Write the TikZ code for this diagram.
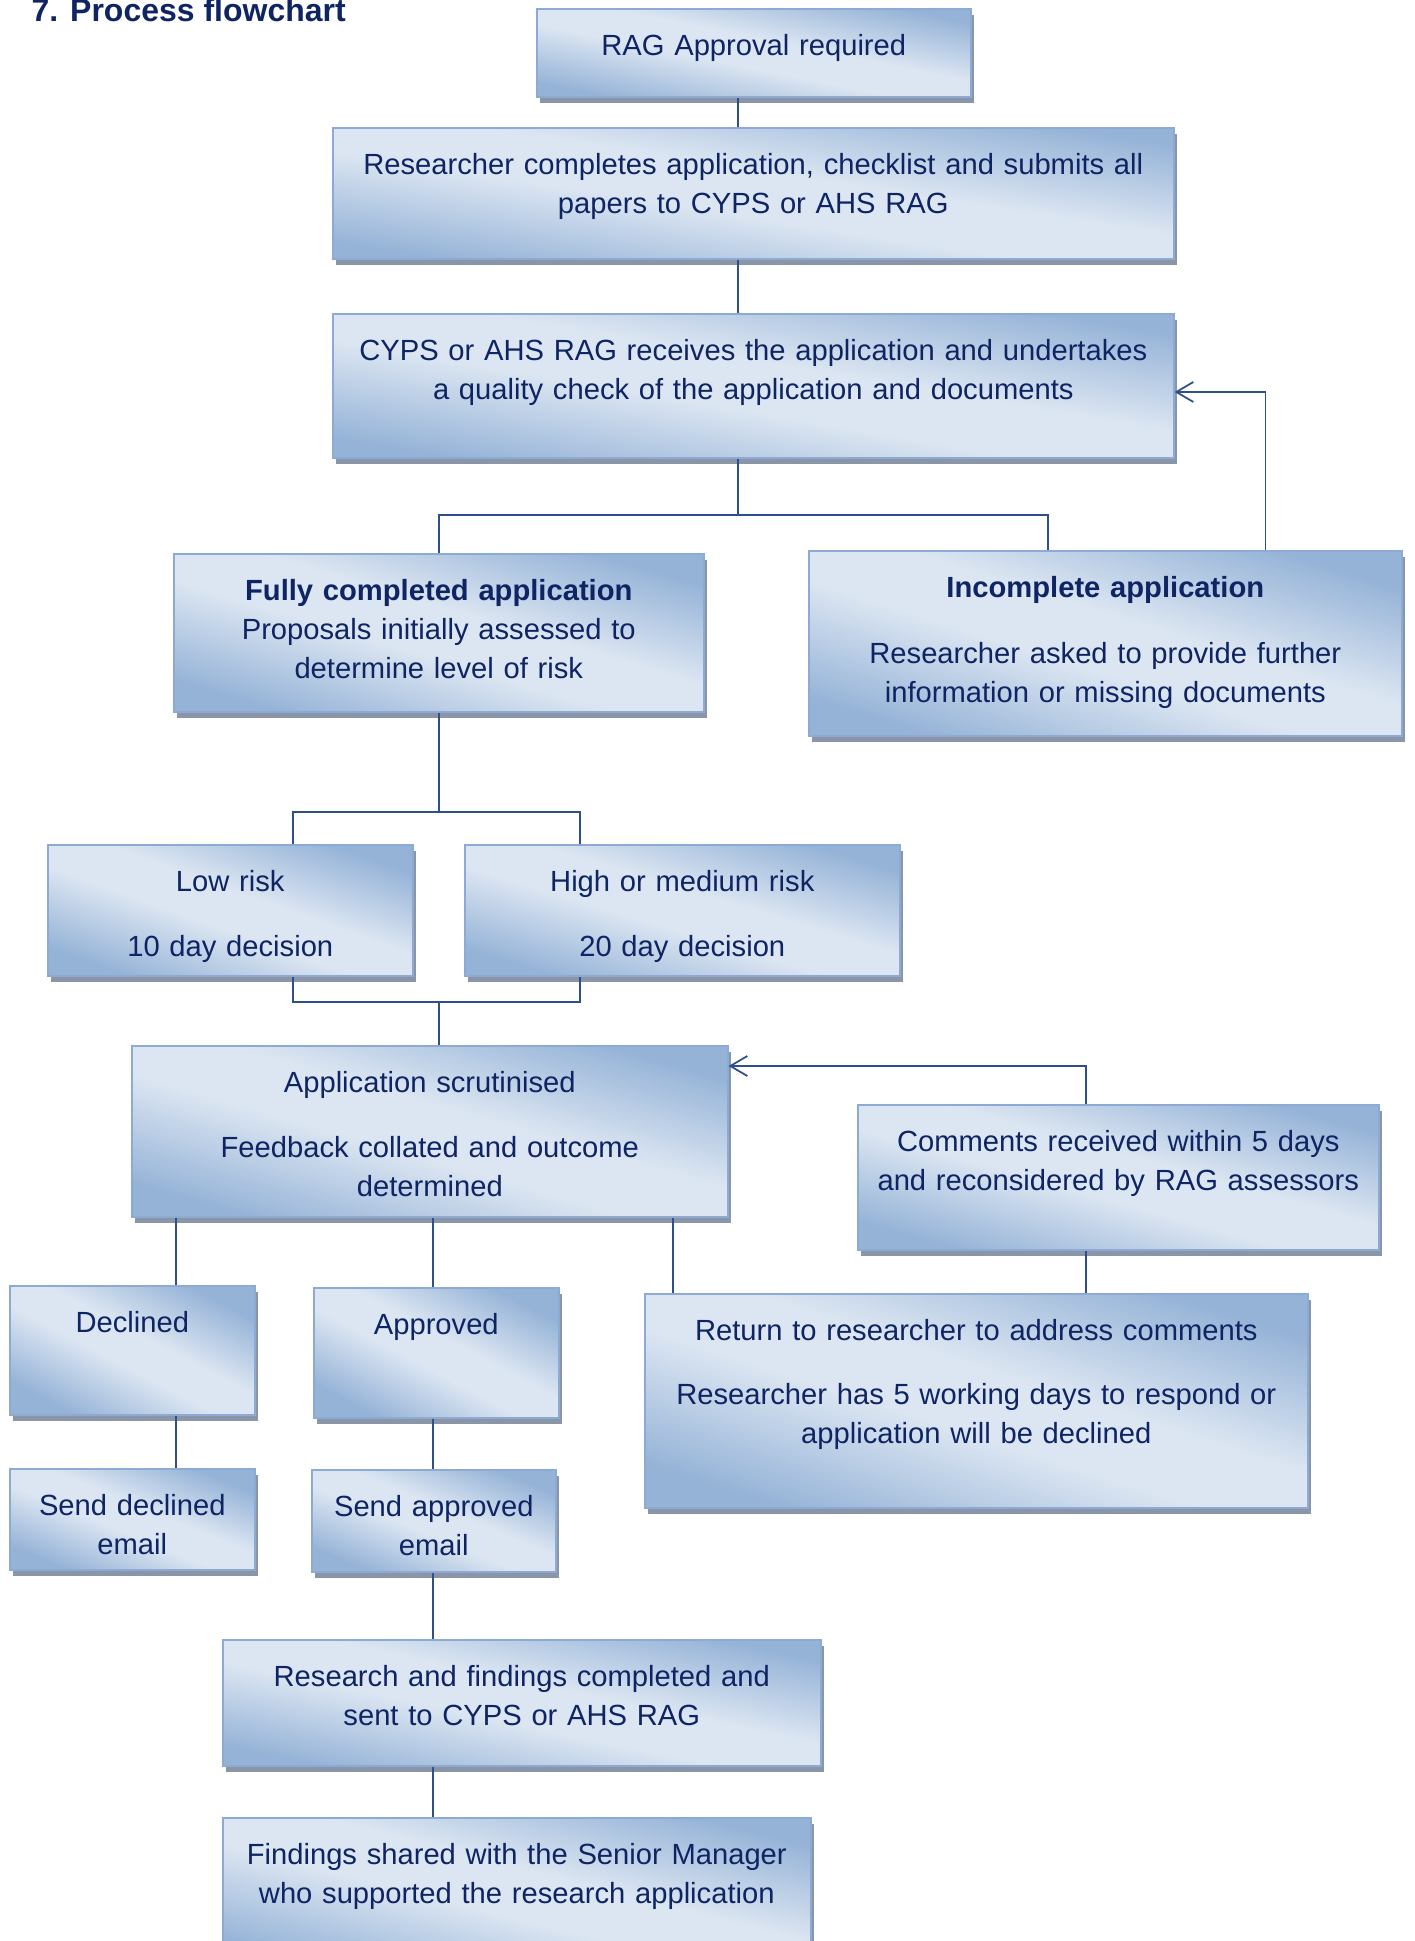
\documentclass[tikz,border=0pt]{standalone}
\usepackage{fontspec}
\setmainfont{Liberation Sans}
\usepackage{tikz}
\usetikzlibrary{arrows.meta, shadows, calc}
\definecolor{boxlight}{RGB}{220,230,242}
\definecolor{boxdark}{RGB}{149,179,215}
\definecolor{boxedge}{RGB}{141,170,212}
\definecolor{boxshadow}{RGB}{138,150,168}
\definecolor{flownavy}{RGB}{15,36,99}
\definecolor{linkblue}{RGB}{45,80,140}
\newcommand{\flowfont}{\fontsize{8.3}{11.1}\selectfont}
\pgfdeclareverticalshading{flowshade}{100bp}{color(0bp)=(boxdark); color(25bp)=(boxdark); color(45bp)=(boxlight); color(55bp)=(boxlight); color(75bp)=(boxdark); color(100bp)=(boxdark)}

\tikzset{
  flowbox/.style={draw=boxedge, line width=0.45pt,
    shade, shading=flowshade,
    drop shadow={fill=boxshadow, opacity=1, shadow xshift=0.035cm, shadow yshift=-0.06cm},
    anchor=north west, inner sep=0pt, align=center, text=flownavy, font=\flowfont,
    text height=0.47cm},
  link/.style={draw=linkblue, line width=0.5pt},
  back/.style={-{Straight Barb[length=0.17cm, width=0.2cm]}}
}

\begin{document}
\begin{tikzpicture}
        \useasboundingbox (0,0) rectangle (14.14,-19.41);
        \node[anchor=base west, inner sep=0pt, text=flownavy, font=\bfseries\fontsize{9.1}{11}\selectfont] (title) at (0.31,-0.22) {7. Process flowchart};
        % Boxes
        \node[flowbox, text width=4.34cm, text depth=0.41cm, shading angle=-11.5] (rag) at (5.36,-0.08) {RAG Approval required};
        \node[flowbox, text width=8.41cm, text depth=0.84cm, shading angle=-8.9] (submit) at (3.32,-1.27) {Researcher completes application, checklist and submits all\\ papers to CYPS or AHS RAG};
        \node[flowbox, text width=8.41cm, text depth=0.97cm, shading angle=-9.7] (check) at (3.32,-3.13) {CYPS or AHS RAG receives the application and undertakes\\ a quality check of the application and documents};
        \node[flowbox, text width=5.30cm, text depth=1.11cm, shading angle=-16.6] (full) at (1.73,-5.53) {\textbf{Fully completed application}\\ Proposals initially assessed to\\ determine level of risk};
        \node[flowbox, text width=5.93cm, text depth=1.38cm, shading angle=-17.3] (incomplete) at (8.08,-5.50) {\textbf{Incomplete application}\\[0.27cm] Researcher asked to provide further\\ information or missing documents};
        \node[flowbox, text width=3.65cm, text depth=0.84cm, shading angle=-19.7] (low) at (0.47,-8.44) {Low risk\\[0.26cm] 10 day decision};
        \node[flowbox, text width=4.35cm, text depth=0.84cm, shading angle=-16.8] (high) at (4.64,-8.44) {High or medium risk\\[0.26cm] 20 day decision};
        \node[flowbox, text width=5.96cm, text depth=1.24cm, shading angle=-16.0] (scrut) at (1.31,-10.45) {Application scrutinised\\[0.26cm] Feedback collated and outcome\\ determined};
        \node[flowbox, text width=5.21cm, text depth=0.98cm, shading angle=-15.6] (comments) at (8.57,-11.04) {Comments received within 5 days\\ and reconsidered by RAG assessors};
        \node[flowbox, text width=2.45cm, text depth=0.82cm, shading angle=-27.8] (declined) at (0.09,-12.85) {Declined};
        \node[flowbox, text width=2.45cm, text depth=0.83cm, shading angle=-27.9] (approved) at (3.13,-12.87) {Approved};
        \node[flowbox, text width=6.63cm, text depth=1.67cm, shading angle=-17.9] (return) at (6.44,-12.93) {Return to researcher to address comments\\[0.25cm] Researcher has 5 working days to respond or\\ application will be declined};
        \node[flowbox, text width=2.45cm, text depth=0.54cm, shading angle=-22.4] (senddec) at (0.09,-14.68) {Send declined\\ email};
        \node[flowbox, text width=2.44cm, text depth=0.55cm, shading angle=-22.7] (sendapp) at (3.11,-14.69) {Send approved\\ email};
        \node[flowbox, text width=5.98cm, text depth=0.79cm, shading angle=-11.9] (research) at (2.22,-16.39) {Research and findings completed and\\ sent to CYPS or AHS RAG};
        \node[flowbox, text width=5.88cm, text depth=1.03cm, shading angle=-14.3] (findings) at (2.22,-18.17) {Findings shared with the Senior Manager\\ who supported the research application};
        % Tap points
        \coordinate (spine) at (7.38,0);
        \coordinate (fork1) at (7.38,-5.15);
        \coordinate (fork2) at (4.37,-8.12);
        \coordinate (join) at (4.39,-10.02);
        \coordinate (lowtap) at (2.93,0);
        \coordinate (hightap) at (5.80,0);
        \coordinate (inctap) at (10.48,0);
        \coordinate (dectap) at (1.76,0);
        \coordinate (apptap) at (4.33,0);
        \coordinate (rettap) at (6.73,0);
        \coordinate (comtap) at (10.86,0);
        % Connectors
        \draw[link] (rag.south -| spine) -- (submit.north -| spine);
        \draw[link] (submit.south -| spine) -- (check.north -| spine);
        \draw[link] (check.south -| spine) -- (fork1);
        \draw[link] (full.north) |- (fork1) -| (incomplete.north -| inctap);
        \draw[link, back] ($(incomplete.north east)+(-1.37,0)$) |- ($(check.north east)+(0,-0.79)$);
        \draw[link] (full.south) -- (full.south |- fork2);
        \draw[link] (low.north -| lowtap) |- (fork2) -| (high.north -| hightap);
        \draw[link] (low.south -| lowtap) |- (join) -| (high.south -| hightap);
        \draw[link] (join) -- (join |- scrut.north);
        \draw[link] (scrut.south -| dectap) -- (declined.north -| dectap);
        \draw[link] (scrut.south -| apptap) -- (approved.north -| apptap);
        \draw[link] (scrut.south -| rettap) -- (return.north -| rettap);
        \draw[link, back] (comments.north -| comtap) |- ($(scrut.north east)+(0,-0.21)$);
        \draw[link] (comments.south -| comtap) -- (return.north -| comtap);
        \draw[link] (declined.south -| dectap) -- (senddec.north -| dectap);
        \draw[link] (approved.south -| apptap) -- (sendapp.north -| apptap);
        \draw[link] (sendapp.south -| apptap) -- (research.north -| apptap);
        \draw[link] (research.south -| apptap) -- (findings.north -| apptap);
\end{tikzpicture}
\end{document}
